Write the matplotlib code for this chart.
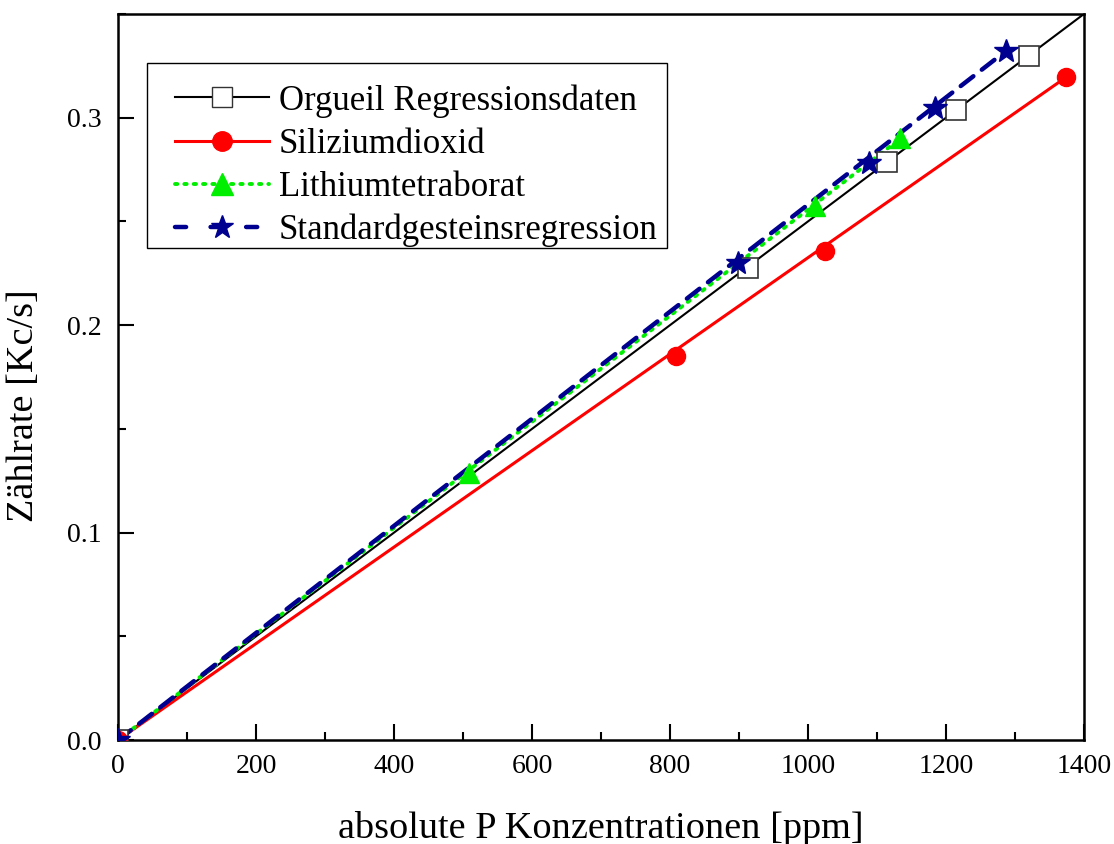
import numpy as np
import matplotlib.pyplot as plt
from matplotlib.patches import Rectangle
from matplotlib.ticker import MultipleLocator, FormatStrFormatter

plt.rcParams['font.family'] = ['Liberation Serif', 'DejaVu Serif']

# Messpunkte
orgueil_x = [0, 913, 1115, 1214, 1320]
orgueil_y = [0, 0.2276, 0.2787, 0.3036, 0.3297]
orgueil_fit_x = [0, 1400]
orgueil_fit_y = [0, 0.35]

sio2_x = [0, 808, 1025, 1374]
sio2_y = [0, 0.1853, 0.2357, 0.3195]
sio2_fit_x = [0, 1374]
sio2_fit_y = [0, 0.3195]

litb_x = [0, 508, 1010, 1134]
litb_y = [0, 0.1286, 0.2576, 0.2900]
litb_fit_x = [0, 1134]
litb_fit_y = [0, 0.2900]

std_x = [0, 898, 1088, 1184, 1287]
std_y = [0, 0.2300, 0.2784, 0.3046, 0.3322]
std_fit_x = [0, 1287]
std_fit_y = [0, 0.3322]

labels = ['Orgueil Regressionsdaten', 'Siliziumdioxid',
          'Lithiumtetraborat', 'Standardgesteinsregression']

GREEN = '#00ee00'
NAVY = '#000090'
dotted = (0, (0.6, 1.8))
dashed = (0, (3.6, 2.4))

fig = plt.figure(figsize=(11.14, 8.44), dpi=100)
ax = fig.add_axes([0.106, 0.1232, 0.867, 0.8602])

# Regressionsgeraden
ax.plot(orgueil_fit_x, orgueil_fit_y, color='black', lw=1.5, zorder=2)
ax.plot(sio2_fit_x, sio2_fit_y, color='red', lw=2.2, zorder=2)
ax.plot(litb_fit_x, litb_fit_y, color=GREEN, lw=2.8, linestyle=dotted,
        dash_capstyle='round', zorder=3)
ax.plot(std_fit_x, std_fit_y, color=NAVY, lw=3.2, linestyle=dashed,
        dash_capstyle='round', zorder=4)

# Messpunkte
ax.plot(orgueil_x, orgueil_y, ls='none', marker='s', ms=15, mfc='white',
        mec='#333333', mew=1.2, zorder=5)
ax.plot(sio2_x, sio2_y, ls='none', marker='o', ms=13, color='red', zorder=5)
ax.plot(litb_x, litb_y, ls='none', marker='^', ms=15, color=GREEN, zorder=5)
ax.plot(std_x, std_y, ls='none', marker='*', ms=18, color=NAVY, zorder=6)

# Legende mit Proxy-Linien, Rahmen separat gezeichnet
h1, = ax.plot([], [], color='black', lw=1.5, marker='s', ms=15, mfc='white', mec='#333333')
h2, = ax.plot([], [], color='red', lw=2.2, marker='o', ms=14)
h3, = ax.plot([], [], color=GREEN, lw=2.8, linestyle=dotted,
              dash_capstyle='round', marker='^', ms=16)
h4, = ax.plot([], [], color=NAVY, lw=3.2, linestyle=(0, (2.5, 5.5)),
              dash_capstyle='round', marker='*', ms=17)
leg = ax.legend([h1, h2, h3, h4], labels, loc='upper left',
                bbox_to_anchor=(0.059, 0.9034), fontsize=25, frameon=False,
                handlelength=2.7, handletextpad=0.28, labelspacing=0.29,
                borderpad=0, borderaxespad=0)
ax.add_patch(Rectangle((0.030, 0.6777), 0.538, 0.2548, transform=ax.transAxes,
                       facecolor='none', edgecolor='black', lw=1.0, zorder=7))

ax.set_xlim(0, 1400)
ax.set_ylim(0, 0.35)
ax.xaxis.set_major_locator(MultipleLocator(200))
ax.xaxis.set_minor_locator(MultipleLocator(100))
ax.yaxis.set_major_locator(MultipleLocator(0.1))
ax.yaxis.set_minor_locator(MultipleLocator(0.05))
ax.yaxis.set_major_formatter(FormatStrFormatter('%.1f'))
ax.tick_params(which='both', direction='in', top=False, right=False,
               labelsize=20, width=1.5)
ax.tick_params(which='major', length=11.5)
ax.tick_params(axis='x', which='major', pad=10)
ax.tick_params(axis='y', which='major', pad=12)
ax.tick_params(which='minor', length=6)
for s in ax.spines.values():
    s.set_linewidth(1.8)

ax.set_xlabel('absolute P Konzentrationen [ppm]', fontsize=27.5, labelpad=23)
ax.set_ylabel('Zählrate [Kc/s]', fontsize=27.5)
ax.yaxis.set_label_coords(-0.08, 0.46)

fig.savefig('out.png', dpi=100)
